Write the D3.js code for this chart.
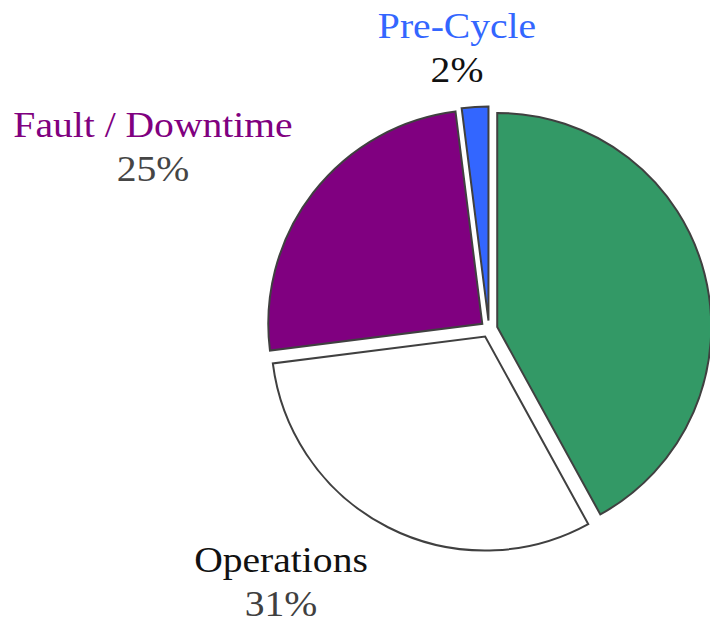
<!DOCTYPE html>
<html>
<head>
<meta charset="utf-8">
<script src="https://cdn.jsdelivr.net/npm/d3@7"></script>
<style>
    body { margin: 0; background: #fff; }
    svg { display: block; }
</style>
</head>
<body>
<svg width="710" height="623"></svg>
<script>
// Данные диаграммы (по часовой стрелке от 12 часов)
const categories = ["Cycle", "Operations", "Fault / Downtime", "Pre-Cycle"];
const values = [42, 31, 25, 2];
const percentLabels = ["42%", "31%", "25%", "2%"];
const showLabel = [false, true, true, true];

const sliceColors = ["#339966", "#ffffff", "#800080", "#3366ff"];
const nameColors = ["#339966", "#111111", "#800080", "#3366ff"];
const pctColors = ["#333333", "#404040", "#454545", "#111111"];

// Положение подписей (центр текста, базовая линия названия)
const labelPos = [[0, 0], [281, 572], [153, 137], [457, 38]];

function drawPie() {
    let svg = d3.select("svg");
    svg.selectAll('*').remove();

    const attr_area = {
        cx: 489,
        cy: 329,
        radius: 214,
        explode: 8.5
    };

    const data = categories.map((c, i) => ({ name: c, value: values[i], idx: i }));

    const pie = d3.pie()
        .sort(null)
        .value(d => d.value);

    const arc = d3.arc()
        .innerRadius(0)
        .outerRadius(attr_area.radius);

    const g = svg.append("g")
        .attr("transform", `translate(${attr_area.cx}, ${attr_area.cy})`);

    // Сектора, немного раздвинутые от центра
    g.selectAll("path")
        .data(pie(data))
        .enter()
        .append("path")
        .attr("d", arc)
        .attr("transform", d => {
            const a = (d.startAngle + d.endAngle) / 2;
            return `translate(${Math.sin(a) * attr_area.explode}, ${-Math.cos(a) * attr_area.explode})`;
        })
        .style("fill", d => sliceColors[d.data.idx])
        .style("stroke", "#404040")
        .style("stroke-width", 2);

    // Подписи: название и процент
    const labels = svg.selectAll(".label")
        .data(data.filter(d => showLabel[d.idx]))
        .enter()
        .append("g")
        .attr("class", "label")
        .attr("transform", d => `translate(${labelPos[d.idx][0]}, ${labelPos[d.idx][1]}) scale(1.1, 1)`);

    labels.append("text")
        .attr("text-anchor", "middle")
        .attr("font-family", "Liberation Serif, Times New Roman, serif")
        .attr("font-size", 36)
        .style("fill", d => nameColors[d.idx])
        .text(d => d.name);

    labels.append("text")
        .attr("text-anchor", "middle")
        .attr("y", 44)
        .attr("font-family", "Liberation Serif, Times New Roman, serif")
        .attr("font-size", 36)
        .style("fill", d => pctColors[d.idx])
        .text(d => percentLabels[d.idx]);
}

drawPie();
</script>
</body>
</html>
